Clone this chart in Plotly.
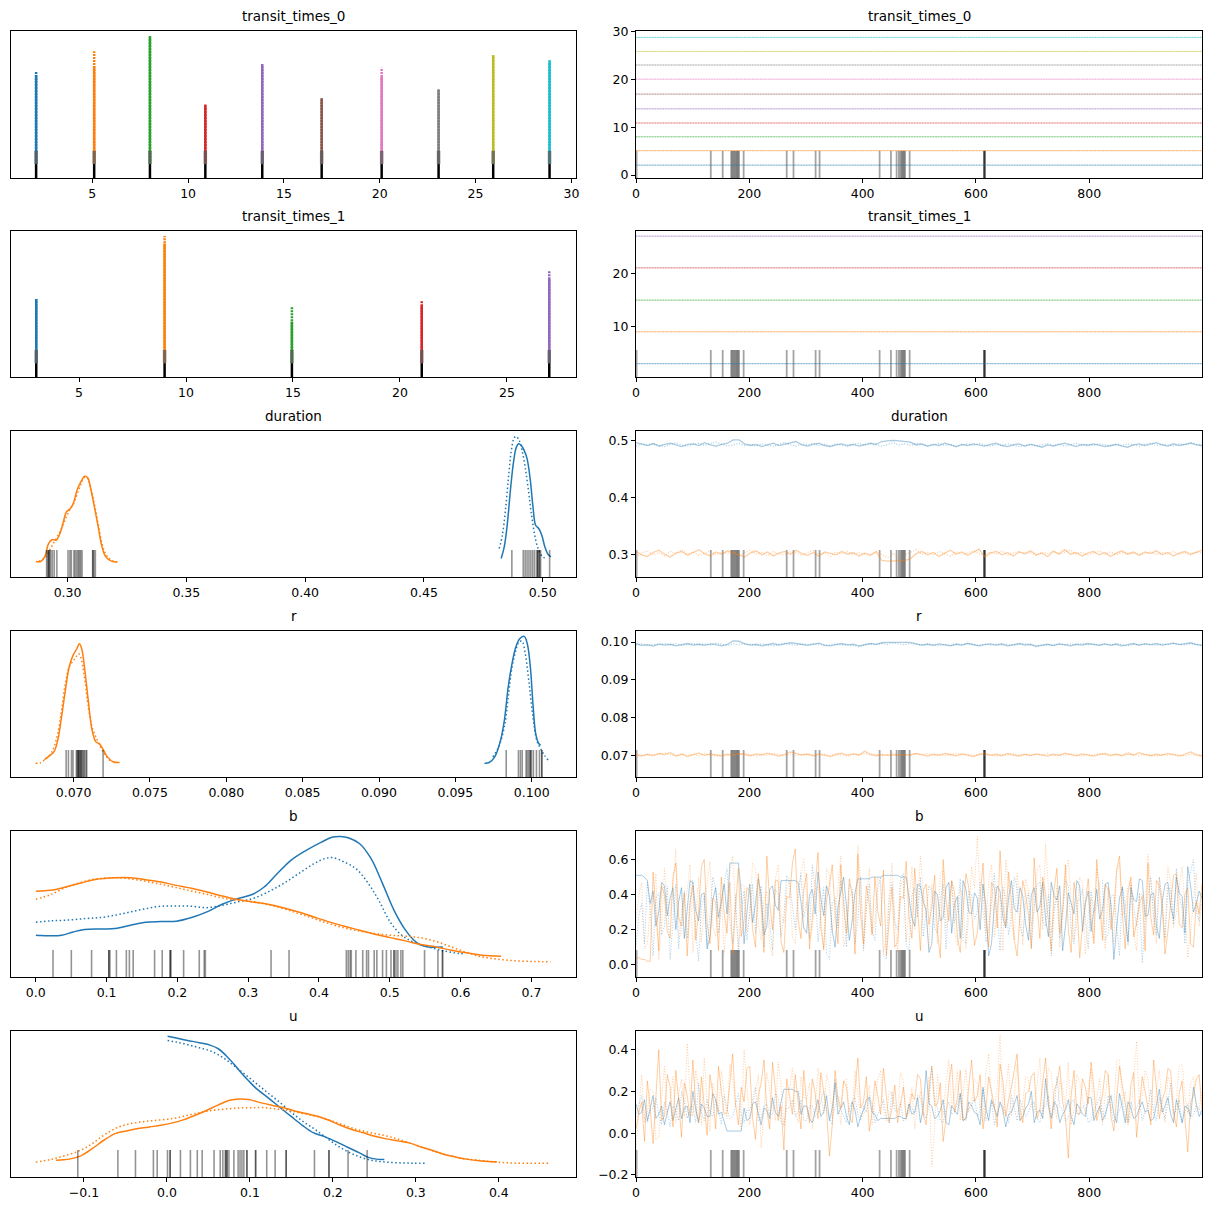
import numpy as np
import plotly.graph_objects as go

# ---------------- data ----------------
TAB10 = ["#1f77b4", "#ff7f0e", "#2ca02c", "#d62728", "#9467bd",
         "#8c564b", "#e377c2", "#7f7f7f", "#bcbd22", "#17becf"]

var_names = ["transit_times_0", "transit_times_1", "duration", "r", "b", "u"]

# transit times: posterior is essentially a spike at each value
tt0_values = [2.07, 5.10, 8.01, 10.90, 13.87, 16.97, 20.10, 23.07, 25.92, 28.86]
tt0_peak_chain0 = [0.70, 0.77, 1.01, 0.47, 0.79, 0.52, 0.69, 0.59, 0.86, 0.82]
tt0_peak_chain1 = [0.73, 0.89, 1.00, 0.46, 0.78, 0.51, 0.76, 0.58, 0.85, 0.81]
tt1_values = [3.00, 9.00, 14.95, 21.02, 26.98]
tt1_peak_chain0 = [0.51, 0.95, 0.33, 0.46, 0.67]
tt1_peak_chain1 = [0.51, 1.01, 0.45, 0.50, 0.73]

# KDE curves (x, density) per dimension / chain
dur_kde_d1_c0_x = [0.2867, 0.2887, 0.2904, 0.2920, 0.2936, 0.2952, 0.2968, 0.2984, 0.2995, 0.3011, 0.3024,
                   0.3040, 0.3056, 0.3072, 0.3085, 0.3096, 0.3113, 0.3129, 0.3145, 0.3161, 0.3185, 0.3209]
dur_kde_d1_c0_y = [0.013, 0.013, 0.050, 0.156, 0.188, 0.182, 0.235, 0.341, 0.407, 0.433, 0.473,
                   0.579, 0.645, 0.690, 0.679, 0.605, 0.447, 0.288, 0.129, 0.050, 0.016, 0.008]
dur_kde_d1_c1_x = [0.2879, 0.2895, 0.2912, 0.2928, 0.2944, 0.2960, 0.2976, 0.2992, 0.3008, 0.3024, 0.3040,
                   0.3056, 0.3069, 0.3082, 0.3096, 0.3113, 0.3129, 0.3145, 0.3161, 0.3177, 0.3193, 0.3209]
dur_kde_d1_c1_y = [0.013, 0.029, 0.061, 0.114, 0.169, 0.222, 0.283, 0.354, 0.420, 0.468, 0.547,
                   0.626, 0.679, 0.679, 0.610, 0.468, 0.309, 0.156, 0.071, 0.034, 0.016, 0.011]
dur_kde_d0_c0_x = [0.4825, 0.4838, 0.4851, 0.4864, 0.4877, 0.4889, 0.4899, 0.4909, 0.4922, 0.4934, 0.4947,
                   0.4959, 0.4970, 0.4983, 0.4996, 0.5009, 0.5022, 0.5034]
dur_kde_d0_c0_y = [0.037, 0.129, 0.314, 0.579, 0.803, 0.922, 0.949, 0.936, 0.896, 0.830, 0.671,
                   0.447, 0.301, 0.275, 0.222, 0.129, 0.071, 0.050]
dur_kde_d0_c1_x = [0.4817, 0.4830, 0.4843, 0.4856, 0.4868, 0.4880, 0.4889, 0.4901, 0.4913, 0.4926, 0.4939,
                   0.4952, 0.4965, 0.4978, 0.4991, 0.5004, 0.5018]
dur_kde_d0_c1_y = [0.116, 0.222, 0.420, 0.684, 0.896, 0.996, 1.007, 0.975, 0.896, 0.764, 0.592,
                   0.394, 0.235, 0.129, 0.071, 0.045, 0.034]

r_kde_d1_c0_x = [0.06808, 0.06833, 0.06871, 0.06896, 0.06921, 0.06946, 0.06971, 0.06996, 0.07021, 0.07038,
                 0.07053, 0.07071, 0.07096, 0.07121, 0.07146, 0.07171, 0.07196, 0.07221, 0.07258, 0.07301]
r_kde_d1_c0_y = [0.029, 0.050, 0.090, 0.182, 0.367, 0.579, 0.764, 0.856, 0.909, 0.949,
                 0.909, 0.764, 0.499, 0.262, 0.169, 0.151, 0.103, 0.050, 0.011, 0.005]
r_kde_d1_c1_x = [0.06751, 0.06783, 0.06821, 0.06858, 0.06896, 0.06921, 0.06946, 0.06971, 0.07008, 0.07033,
                 0.07046, 0.07071, 0.07096, 0.07121, 0.07146, 0.07176, 0.07208, 0.07246]
r_kde_d1_c1_y = [0.000, 0.003, 0.037, 0.090, 0.235, 0.420, 0.632, 0.764, 0.830, 0.869,
                 0.843, 0.684, 0.447, 0.288, 0.209, 0.129, 0.063, 0.011]
r_kde_d0_c0_x = [0.09691, 0.09721, 0.09758, 0.09796, 0.09821, 0.09846, 0.09871, 0.09896, 0.09921, 0.09951,
                 0.09971, 0.09991, 0.10008, 0.10026, 0.10046, 0.10058]
r_kde_d0_c0_y = [0.000, 0.005, 0.050, 0.182, 0.341, 0.605, 0.790, 0.922, 0.988, 1.007,
                 0.949, 0.764, 0.473, 0.235, 0.156, 0.143]
r_kde_d0_c1_x = [0.09746, 0.09783, 0.09821, 0.09846, 0.09871, 0.09896, 0.09916, 0.09936, 0.09958, 0.09983,
                 0.10008, 0.10033, 0.10058, 0.10083, 0.10108]
r_kde_d0_c1_y = [0.050, 0.129, 0.288, 0.526, 0.764, 0.896, 0.962, 0.970, 0.869, 0.632,
                 0.367, 0.182, 0.116, 0.063, 0.024]

b_kde_d0_c0_x = [0.0001, 0.0071, 0.0206, 0.0367, 0.0529, 0.0691, 0.0907, 0.1122, 0.1338, 0.1554, 0.1770,
                 0.1985, 0.2201, 0.2417, 0.2633, 0.2848, 0.3064, 0.3226, 0.3388, 0.3604, 0.3819, 0.4035,
                 0.4197, 0.4305, 0.4413, 0.4575, 0.4736, 0.4898, 0.5060, 0.5222, 0.5330, 0.5437, 0.5545, 0.5750]
b_kde_d0_c0_y = [0.222, 0.219, 0.217, 0.222, 0.248, 0.267, 0.272, 0.275, 0.301, 0.325, 0.330,
                 0.333, 0.362, 0.407, 0.468, 0.513, 0.547, 0.605, 0.698, 0.817, 0.896, 0.962,
                 1.002, 1.007, 0.997, 0.949, 0.830, 0.632, 0.420, 0.262, 0.188, 0.143, 0.129, 0.129]
b_kde_d0_c1_x = [0.0001, 0.0206, 0.0421, 0.0691, 0.0907, 0.1122, 0.1338, 0.1554, 0.1770, 0.1985, 0.2201,
                 0.2417, 0.2633, 0.2848, 0.3064, 0.3280, 0.3496, 0.3711, 0.3927, 0.4089, 0.4197, 0.4359,
                 0.4521, 0.4682, 0.4844, 0.5006, 0.5168, 0.5330, 0.5545, 0.5761, 0.5977, 0.6031]
b_kde_d0_c1_y = [0.325, 0.336, 0.341, 0.354, 0.362, 0.381, 0.407, 0.433, 0.452, 0.455, 0.452,
                 0.441, 0.460, 0.486, 0.513, 0.566, 0.632, 0.711, 0.790, 0.832, 0.838, 0.803,
                 0.751, 0.645, 0.499, 0.327, 0.222, 0.169, 0.129, 0.098, 0.077, 0.074]
b_kde_d1_c0_x = [0.0001, 0.0206, 0.0421, 0.0637, 0.0853, 0.1122, 0.1338, 0.1554, 0.1770, 0.1985, 0.2201,
                 0.2417, 0.2633, 0.2848, 0.3064, 0.3280, 0.3496, 0.3711, 0.3927, 0.4143, 0.4359, 0.4575,
                 0.4790, 0.5006, 0.5222, 0.5437, 0.5653, 0.5869, 0.6085, 0.6300, 0.6570]
b_kde_d1_c0_y = [0.571, 0.579, 0.605, 0.637, 0.666, 0.679, 0.679, 0.663, 0.645, 0.618, 0.595,
                 0.566, 0.534, 0.505, 0.486, 0.468, 0.441, 0.407, 0.367, 0.328, 0.293, 0.262,
                 0.230, 0.203, 0.177, 0.148, 0.129, 0.103, 0.082, 0.063, 0.055]
b_kde_d1_c1_x = [0.0001, 0.0206, 0.0421, 0.0637, 0.0853, 0.1122, 0.1338, 0.1554, 0.1770, 0.1985, 0.2201,
                 0.2417, 0.2633, 0.2848, 0.3064, 0.3280, 0.3496, 0.3711, 0.3927, 0.4143, 0.4359, 0.4575,
                 0.4790, 0.5006, 0.5222, 0.5437, 0.5653, 0.5869, 0.6085, 0.6300, 0.6516, 0.6786, 0.7055, 0.7271]
b_kde_d1_c1_y = [0.507, 0.544, 0.600, 0.642, 0.669, 0.679, 0.669, 0.650, 0.626, 0.600, 0.573,
                 0.547, 0.518, 0.499, 0.489, 0.465, 0.433, 0.394, 0.354, 0.314, 0.280, 0.254,
                 0.235, 0.222, 0.214, 0.201, 0.172, 0.129, 0.085, 0.050, 0.032, 0.018, 0.013, 0.011]

u_kde_d0_c0_x = [0.0008, 0.0113, 0.0251, 0.0389, 0.0527, 0.0619, 0.0711, 0.0803, 0.0895, 0.0987, 0.1079,
                 0.1217, 0.1355, 0.1493, 0.1631, 0.1769, 0.1907, 0.2045, 0.2183, 0.2321, 0.2413, 0.2505, 0.2620]
u_kde_d0_c0_y = [1.009, 0.994, 0.975, 0.957, 0.936, 0.909, 0.856, 0.790, 0.719, 0.653, 0.592,
                 0.521, 0.447, 0.373, 0.301, 0.240, 0.209, 0.169, 0.124, 0.082, 0.050, 0.034, 0.029]
u_kde_d0_c1_x = [0.0008, 0.0113, 0.0251, 0.0389, 0.0527, 0.0665, 0.0803, 0.0941, 0.1079, 0.1217, 0.1355,
                 0.1493, 0.1631, 0.1769, 0.1907, 0.2045, 0.2183, 0.2321, 0.2459, 0.2597, 0.2781, 0.2965, 0.3126]
u_kde_d0_c1_y = [0.975, 0.962, 0.941, 0.917, 0.891, 0.843, 0.777, 0.706, 0.632, 0.558, 0.486,
                 0.407, 0.336, 0.275, 0.209, 0.143, 0.090, 0.050, 0.024, 0.011, 0.003, 0.000, 0.000]
u_kde_d1_c0_x = [-0.1336, -0.1175, -0.1037, -0.0899, -0.0761, -0.0623, -0.0485, -0.0347, -0.0209, -0.0071,
                 0.0067, 0.0205, 0.0343, 0.0481, 0.0619, 0.0757, 0.0872, 0.0987, 0.1125, 0.1263, 0.1401,
                 0.1539, 0.1677, 0.1815, 0.1953, 0.2091, 0.2229, 0.2367, 0.2505, 0.2643, 0.2781, 0.2919,
                 0.3057, 0.3195, 0.3333, 0.3471, 0.3609, 0.3793, 0.3977]
u_kde_d1_c0_y = [0.024, 0.032, 0.058, 0.116, 0.182, 0.235, 0.256, 0.275, 0.288, 0.301,
                 0.320, 0.346, 0.381, 0.420, 0.463, 0.500, 0.510, 0.505, 0.481, 0.460, 0.442,
                 0.415, 0.394, 0.373, 0.341, 0.301, 0.267, 0.241, 0.214, 0.193, 0.177, 0.161,
                 0.130, 0.103, 0.071, 0.050, 0.032, 0.018, 0.011]
u_kde_d1_c1_x = [-0.1580, -0.1405, -0.1221, -0.1037, -0.0899, -0.0761, -0.0623, -0.0485, -0.0301, -0.0117,
                 0.0067, 0.0205, 0.0343, 0.0481, 0.0619, 0.0757, 0.0895, 0.1033, 0.1171, 0.1309, 0.1447,
                 0.1585, 0.1723, 0.1861, 0.1999, 0.2137, 0.2275, 0.2413, 0.2551, 0.2689, 0.2827, 0.2965,
                 0.3103, 0.3241, 0.3379, 0.3517, 0.3747, 0.3977, 0.4207, 0.4598]
u_kde_d1_c1_y = [0.008, 0.029, 0.061, 0.103, 0.156, 0.222, 0.275, 0.307, 0.328, 0.341,
                 0.354, 0.373, 0.394, 0.412, 0.425, 0.433, 0.439, 0.441, 0.441, 0.431, 0.420,
                 0.402, 0.383, 0.362, 0.333, 0.301, 0.270, 0.248, 0.230, 0.209, 0.182, 0.151,
                 0.119, 0.090, 0.063, 0.042, 0.024, 0.008, 0.000, 0.000]

# divergent draws (trace panels) and divergent values (dist panels)
divergent_draws = [1, 132, 153, 168, 170, 172, 174, 176, 178, 180, 182, 190, 266, 278, 317, 324,
                   430, 450, 460, 464, 467, 469, 471, 473, 475, 483, 614, 615, 615, 616]
dur_div_values = [0.2912, 0.2916, 0.2921, 0.2921, 0.2924, 0.2929, 0.2936, 0.2944, 0.2955, 0.3002, 0.3010,
                  0.3016, 0.3027, 0.3032, 0.3039, 0.3045, 0.3050, 0.3055, 0.3061, 0.3106, 0.3106, 0.3111,
                  0.3117, 0.4870, 0.4918, 0.4926, 0.4934, 0.4942, 0.4950, 0.4958, 0.4966, 0.4975, 0.4979,
                  0.4986, 0.4991, 0.4986, 0.4979, 0.5029]
r_div_values = [0.06951, 0.06966, 0.06986, 0.06996, 0.07018, 0.07023, 0.07028, 0.07033, 0.07038, 0.07046,
                0.07053, 0.07058, 0.07066, 0.07071, 0.07081, 0.07086, 0.07193, 0.07033, 0.07046,
                0.09833, 0.09913, 0.09926, 0.09938, 0.09963, 0.09971, 0.09981, 0.09991, 0.09998, 0.10011,
                0.10031, 0.10051, 0.10066, 0.09991, 0.10066]
b_div_values = [0.0243, 0.0502, 0.0788, 0.1031, 0.1031, 0.1047, 0.1139, 0.1279, 0.1322, 0.1376, 0.1678,
                0.1786, 0.1899, 0.1899, 0.1910, 0.2088, 0.2309, 0.2379, 0.2395, 0.3323, 0.3577, 0.4386,
                0.4413, 0.4440, 0.4456, 0.4521, 0.4618, 0.4672, 0.4699, 0.4780, 0.4817, 0.4898, 0.4952,
                0.5017, 0.5060, 0.5060, 0.5087, 0.5114, 0.5157, 0.5184, 0.5491, 0.5680, 0.5745, 0.5745]
u_div_values = [-0.1074, -0.0591, -0.0379, -0.0163, -0.0117, 0.0007, 0.0039, 0.0039, 0.0163, 0.0283, 0.0366,
                0.0425, 0.0568, 0.0642, 0.0674, 0.0706, 0.0706, 0.0724, 0.0724, 0.0747, 0.0807, 0.0858,
                0.0881, 0.0904, 0.0927, 0.0964, 0.0964, 0.1069, 0.1069, 0.1203, 0.1304, 0.1437, 0.1437,
                0.1778, 0.1953, 0.1953, 0.2183, 0.2413]

# traces (thinned draws)
dur_d0_c0 = [0.497, 0.494, 0.492, 0.495, 0.491, 0.494, 0.496, 0.493, 0.490, 0.494,
             0.495, 0.492, 0.497, 0.493, 0.491, 0.494, 0.496, 0.502, 0.502, 0.495,
             0.492, 0.494, 0.490, 0.493, 0.496, 0.492, 0.494, 0.497, 0.499, 0.493,
             0.491, 0.494, 0.496, 0.492, 0.490, 0.493, 0.495, 0.492, 0.494, 0.491,
             0.493, 0.496, 0.494, 0.499, 0.500, 0.501, 0.500, 0.499, 0.498, 0.493,
             0.495, 0.491, 0.494, 0.492, 0.496, 0.493, 0.490, 0.494, 0.492, 0.495,
             0.493, 0.491, 0.494, 0.496, 0.492, 0.490, 0.493, 0.495, 0.491, 0.494,
             0.492, 0.489, 0.493, 0.491, 0.494, 0.496, 0.493, 0.490, 0.494, 0.492,
             0.495, 0.493, 0.490, 0.492, 0.494, 0.491, 0.489, 0.493, 0.495, 0.492,
             0.494, 0.497, 0.493, 0.491, 0.495, 0.492, 0.494, 0.496, 0.493, 0.492]
dur_d0_c1 = [0.491, 0.495, 0.493, 0.496, 0.492, 0.490, 0.494, 0.497, 0.493, 0.491,
             0.494, 0.496, 0.492, 0.495, 0.498, 0.494, 0.491, 0.493, 0.496, 0.492,
             0.494, 0.491, 0.495, 0.493, 0.490, 0.494, 0.497, 0.493, 0.491, 0.495,
             0.493, 0.496, 0.492, 0.494, 0.491, 0.495, 0.493, 0.490, 0.494, 0.496,
             0.492, 0.495, 0.493, 0.491, 0.494, 0.497, 0.493, 0.495, 0.492, 0.496,
             0.494, 0.491, 0.493, 0.496, 0.492, 0.494, 0.490, 0.493, 0.495, 0.492,
             0.496, 0.493, 0.491, 0.494, 0.492, 0.495, 0.493, 0.490, 0.492, 0.494,
             0.491, 0.493, 0.495, 0.492, 0.494, 0.491, 0.493, 0.496, 0.492, 0.494,
             0.492, 0.495, 0.493, 0.491, 0.494, 0.492, 0.495, 0.493, 0.491, 0.494,
             0.496, 0.492, 0.494, 0.493, 0.491, 0.495, 0.493, 0.497, 0.494, 0.492]
dur_d1_c0 = [0.306, 0.300, 0.297, 0.304, 0.308, 0.301, 0.296, 0.303, 0.306, 0.299,
             0.304, 0.309, 0.302, 0.298, 0.305, 0.301, 0.307, 0.304, 0.300, 0.296,
             0.303, 0.307, 0.300, 0.305, 0.298, 0.303, 0.306, 0.301, 0.308, 0.302,
             0.299, 0.304, 0.297, 0.305, 0.302, 0.300, 0.306, 0.301, 0.304, 0.298,
             0.303, 0.300, 0.305, 0.290, 0.289, 0.289, 0.290, 0.290, 0.293, 0.302,
             0.306, 0.300, 0.304, 0.297, 0.303, 0.308, 0.301, 0.305, 0.299, 0.304,
             0.310, 0.296, 0.303, 0.306, 0.300, 0.304, 0.298, 0.305, 0.302, 0.307,
             0.300, 0.303, 0.297, 0.306, 0.302, 0.309, 0.301, 0.304, 0.298, 0.303,
             0.306, 0.300, 0.304, 0.297, 0.303, 0.307, 0.301, 0.304, 0.299, 0.305,
             0.302, 0.307, 0.300, 0.304, 0.298, 0.303, 0.306, 0.301, 0.304, 0.308]
dur_d1_c1 = [0.295, 0.303, 0.307, 0.300, 0.304, 0.298, 0.306, 0.302, 0.309, 0.301,
             0.305, 0.299, 0.303, 0.307, 0.300, 0.304, 0.302, 0.306, 0.299, 0.303,
             0.308, 0.301, 0.304, 0.298, 0.306, 0.302, 0.300, 0.305, 0.303, 0.299,
             0.304, 0.307, 0.301, 0.303, 0.298, 0.305, 0.302, 0.306, 0.300, 0.304,
             0.301, 0.298, 0.306, 0.300, 0.295, 0.303, 0.292, 0.300, 0.305, 0.309,
             0.301, 0.304, 0.300, 0.306, 0.302, 0.298, 0.305, 0.301, 0.303, 0.307,
             0.302, 0.299, 0.305, 0.301, 0.307, 0.300, 0.303, 0.306, 0.301, 0.304,
             0.299, 0.305, 0.302, 0.307, 0.300, 0.304, 0.309, 0.301, 0.305, 0.299,
             0.303, 0.307, 0.301, 0.305, 0.300, 0.304, 0.302, 0.306, 0.300, 0.303,
             0.305, 0.300, 0.304, 0.302, 0.306, 0.301, 0.304, 0.300, 0.305, 0.303]

r_d0_c0 = [0.0996, 0.0991, 0.0993, 0.0989, 0.0995, 0.0992, 0.0994, 0.0990, 0.0993, 0.0996,
           0.0992, 0.0994, 0.0991, 0.0995, 0.0993, 0.0990, 0.0994, 0.1003, 0.1002, 0.0995,
           0.0992, 0.0994, 0.0990, 0.0993, 0.0996, 0.0992, 0.0995, 0.0998, 0.0996, 0.0993,
           0.0991, 0.0994, 0.0997, 0.0992, 0.0990, 0.0993, 0.0996, 0.0992, 0.0994, 0.0990,
           0.0993, 0.0996, 0.0994, 0.0998, 0.0999, 0.0999, 0.0998, 0.0998, 0.0999, 0.0995,
           0.0992, 0.0994, 0.0991, 0.0995, 0.0993, 0.0990, 0.0994, 0.0992, 0.0996, 0.0993,
           0.0990, 0.0993, 0.0995, 0.0992, 0.0994, 0.0990, 0.0993, 0.0996, 0.0992, 0.0994,
           0.0989, 0.0992, 0.0994, 0.0991, 0.0995, 0.0993, 0.0990, 0.0994, 0.0992, 0.0996,
           0.0993, 0.0991, 0.0995, 0.0992, 0.0994, 0.0990, 0.0993, 0.0996, 0.0992, 0.0995,
           0.0993, 0.0996, 0.0992, 0.0994, 0.0997, 0.0993, 0.0995, 0.0998, 0.0994, 0.0991]
r_d0_c1 = [0.0992, 0.0995, 0.0990, 0.0994, 0.0992, 0.0996, 0.0993, 0.0995, 0.0991, 0.0994,
           0.0996, 0.0993, 0.0995, 0.0992, 0.0997, 0.0994, 0.0991, 0.0995, 0.0993, 0.0996,
           0.0994, 0.0991, 0.0995, 0.0993, 0.0990, 0.0994, 0.0997, 0.0993, 0.0991, 0.0995,
           0.0993, 0.0996, 0.0992, 0.0990, 0.0993, 0.0995, 0.0992, 0.0994, 0.0991, 0.0987,
           0.0992, 0.0995, 0.0993, 0.0996, 0.0994, 0.0998, 0.0995, 0.0993, 0.0996, 0.0994,
           0.0992, 0.0995, 0.0993, 0.0990, 0.0994, 0.0991, 0.0995, 0.0993, 0.0997, 0.0994,
           0.0991, 0.0995, 0.0992, 0.0994, 0.0996, 0.0993, 0.0991, 0.0994, 0.0996, 0.0992,
           0.0988, 0.0991, 0.0993, 0.0990, 0.0994, 0.0992, 0.0995, 0.0993, 0.0996, 0.0993,
           0.0995, 0.0992, 0.0994, 0.0991, 0.0996, 0.0993, 0.0990, 0.0994, 0.0992, 0.0995,
           0.0993, 0.0991, 0.0995, 0.0993, 0.0996, 0.0994, 0.0992, 0.0995, 0.0993, 0.0991]
r_d1_c0 = [0.0702, 0.0699, 0.0704, 0.0701, 0.0706, 0.0703, 0.0708, 0.0700, 0.0704, 0.0698,
           0.0703, 0.0707, 0.0701, 0.0705, 0.0702, 0.0699, 0.0704, 0.0701, 0.0706, 0.0702,
           0.0700, 0.0705, 0.0702, 0.0707, 0.0703, 0.0699, 0.0704, 0.0710, 0.0706, 0.0702,
           0.0704, 0.0700, 0.0705, 0.0702, 0.0698, 0.0703, 0.0707, 0.0701, 0.0705, 0.0702,
           0.0712, 0.0704, 0.0700, 0.0703, 0.0701, 0.0702, 0.0702, 0.0701, 0.0703, 0.0706,
           0.0702, 0.0699, 0.0704, 0.0701, 0.0706, 0.0703, 0.0700, 0.0705, 0.0702, 0.0698,
           0.0703, 0.0707, 0.0701, 0.0704, 0.0700, 0.0706, 0.0702, 0.0699, 0.0704, 0.0701,
           0.0705, 0.0702, 0.0699, 0.0704, 0.0701, 0.0707, 0.0703, 0.0700, 0.0705, 0.0702,
           0.0699, 0.0703, 0.0706, 0.0701, 0.0704, 0.0700, 0.0705, 0.0702, 0.0708, 0.0703,
           0.0700, 0.0704, 0.0701, 0.0706, 0.0702, 0.0699, 0.0704, 0.0710, 0.0703, 0.0700]
r_d1_c1 = [0.0705, 0.0701, 0.0703, 0.0699, 0.0704, 0.0707, 0.0702, 0.0700, 0.0705, 0.0701,
           0.0704, 0.0700, 0.0706, 0.0703, 0.0699, 0.0704, 0.0701, 0.0705, 0.0702, 0.0707,
           0.0703, 0.0699, 0.0704, 0.0701, 0.0706, 0.0702, 0.0700, 0.0704, 0.0701, 0.0703,
           0.0706, 0.0702, 0.0699, 0.0704, 0.0701, 0.0705, 0.0702, 0.0699, 0.0704, 0.0701,
           0.0706, 0.0702, 0.0704, 0.0700, 0.0703, 0.0706, 0.0701, 0.0704, 0.0700, 0.0705,
           0.0703, 0.0706, 0.0701, 0.0704, 0.0700, 0.0703, 0.0707, 0.0702, 0.0704, 0.0700,
           0.0705, 0.0701, 0.0703, 0.0699, 0.0704, 0.0702, 0.0706, 0.0701, 0.0703, 0.0700,
           0.0704, 0.0702, 0.0706, 0.0700, 0.0703, 0.0701, 0.0705, 0.0702, 0.0699, 0.0704,
           0.0701, 0.0706, 0.0703, 0.0700, 0.0704, 0.0702, 0.0709, 0.0703, 0.0700, 0.0705,
           0.0702, 0.0699, 0.0704, 0.0701, 0.0705, 0.0703, 0.0700, 0.0704, 0.0702, 0.0699]

b_d0_c0 = [0.51, 0.51, 0.51, 0.50, 0.48, 0.35, 0.42, 0.22, 0.30, 0.47, 0.45, 0.28, 0.38, 0.44, 0.20, 0.36, 0.44, 0.15, 0.33, 0.48,
           0.47, 0.31, 0.25, 0.40, 0.41, 0.09, 0.16, 0.37, 0.44, 0.27, 0.36, 0.46, 0.29, 0.58, 0.58, 0.58, 0.58, 0.41, 0.12, 0.30,
           0.46, 0.24, 0.35, 0.49, 0.40, 0.17, 0.22, 0.43, 0.45, 0.34, 0.31, 0.48, 0.48, 0.48, 0.48, 0.48, 0.48, 0.47, 0.36, 0.21,
           0.18, 0.40, 0.43, 0.29, 0.53, 0.38, 0.28, 0.45, 0.39, 0.19, 0.10, 0.33, 0.42, 0.50, 0.33, 0.14, 0.25, 0.41, 0.49, 0.49,
           0.49, 0.49, 0.49, 0.50, 0.50, 0.50, 0.50, 0.51, 0.51, 0.51, 0.51, 0.51, 0.51, 0.50, 0.50, 0.50, 0.38, 0.27, 0.22, 0.46,
           0.45, 0.36, 0.31, 0.07, 0.12, 0.42, 0.40, 0.25, 0.27, 0.44, 0.47, 0.18, 0.35, 0.39, 0.15, 0.48, 0.43, 0.30, 0.29, 0.41,
           0.38, 0.20, 0.46, 0.34, 0.05, 0.12, 0.34, 0.45, 0.42, 0.27, 0.21, 0.38, 0.48, 0.32, 0.30, 0.44, 0.39, 0.23, 0.14, 0.40,
           0.44, 0.30, 0.33, 0.47, 0.26, 0.16, 0.47, 0.39, 0.37, 0.45, 0.08, 0.22, 0.41, 0.35, 0.29, 0.48, 0.45, 0.19, 0.35, 0.42,
           0.19, 0.31, 0.43, 0.26, 0.31, 0.46, 0.47, 0.34, 0.03, 0.21, 0.38, 0.44, 0.25, 0.13, 0.44, 0.37, 0.36, 0.49, 0.48, 0.28,
           0.28, 0.40, 0.41, 0.22, 0.15, 0.36, 0.46, 0.47, 0.33, 0.26, 0.50, 0.41, 0.39, 0.18, 0.56, 0.45, 0.30, 0.35, 0.42, 0.38]
b_d0_c1 = [0.10, 0.28, 0.35, 0.12, 0.47, 0.31, 0.05, 0.38, 0.41, 0.17, 0.22, 0.45, 0.03, 0.26, 0.46, 0.09, 0.30, 0.42, 0.15, 0.36,
           0.48, 0.20, 0.02, 0.33, 0.39, 0.11, 0.27, 0.50, 0.44, 0.18, 0.34, 0.47, 0.55, 0.25, 0.12, 0.40, 0.06, 0.29, 0.42, 0.14,
           0.30, 0.46, 0.18, 0.37, 0.45, 0.10, 0.35, 0.24, 0.08, 0.43, 0.40, 0.16, 0.28, 0.51, 0.47, 0.33, 0.20, 0.41, 0.52, 0.27,
           0.36, 0.15, 0.57, 0.44, 0.13, 0.30, 0.44, 0.06, 0.03, 0.35, 0.38, 0.21, 0.48, 0.39, 0.10, 0.46, 0.43, 0.12, 0.25, 0.50,
           0.08, 0.32, 0.46, 0.19, 0.14, 0.44, 0.50, 0.05, 0.03, 0.37, 0.47, 0.24, 0.20, 0.49, 0.52, 0.11, 0.08, 0.40, 0.44, 0.27,
           0.50, 0.16, 0.30, 0.45, 0.42, 0.21, 0.18, 0.36, 0.46, 0.09, 0.35, 0.48, 0.24, 0.31, 0.49, 0.14, 0.12, 0.42, 0.40, 0.26,
           0.30, 0.47, 0.45, 0.13, 0.20, 0.38, 0.52, 0.29, 0.08, 0.44, 0.38, 0.17, 0.28, 0.50, 0.44, 0.22, 0.16, 0.35, 0.41, 0.10,
           0.34, 0.46, 0.47, 0.25, 0.22, 0.40, 0.05, 0.31, 0.39, 0.15, 0.29, 0.48, 0.45, 0.20, 0.12, 0.36, 0.37, 0.43, 0.26, 0.09,
           0.42, 0.30, 0.33, 0.47, 0.48, 0.14, 0.18, 0.39, 0.40, 0.24, 0.05, 0.45, 0.35, 0.11, 0.46, 0.33, 0.22, 0.41, 0.01, 0.28,
           0.38, 0.50, 0.28, 0.17, 0.50, 0.36, 0.15, 0.44, 0.43, 0.23, 0.55, 0.39, 0.32, 0.12, 0.47, 0.53, 0.60, 0.30, 0.25, 0.41]
b_d1_c0 = [0.04, 0.04, 0.03, 0.03, 0.02, 0.02, 0.53, 0.31, 0.08, 0.45, 0.40, 0.19, 0.15, 0.50, 0.58, 0.27, 0.22, 0.41, 0.05, 0.35,
           0.45, 0.14, 0.30, 0.56, 0.60, 0.24, 0.12, 0.38, 0.36, 0.08, 0.50, 0.29, 0.18, 0.47, 0.06, 0.33, 0.55, 0.16, 0.25, 0.44,
           0.42, 0.20, 0.10, 0.52, 0.33, 0.07, 0.62, 0.36, 0.20, 0.48, 0.48, 0.13, 0.07, 0.39, 0.38, 0.58, 0.66, 0.26, 0.15, 0.43,
           0.52, 0.09, 0.28, 0.46, 0.64, 0.21, 0.09, 0.37, 0.45, 0.57, 0.30, 0.12, 0.57, 0.34, 0.18, 0.49, 0.40, 0.06, 0.63, 0.28,
           0.12, 0.45, 0.35, 0.17, 0.50, 0.31, 0.22, 0.54, 0.05, 0.24, 0.44, 0.10, 0.13, 0.39, 0.38, 0.59, 0.27, 0.15, 0.55, 0.33,
           0.08, 0.42, 0.46, 0.23, 0.33, 0.51, 0.19, 0.04, 0.60, 0.37, 0.25, 0.48, 0.41, 0.16, 0.07, 0.30, 0.52, 0.44, 0.30, 0.11,
           0.18, 0.39, 0.58, 0.26, 0.10, 0.47, 0.44, 0.21, 0.65, 0.35, 0.22, 0.53, 0.36, 0.14, 0.05, 0.28, 0.48, 0.40, 0.28, 0.09,
           0.61, 0.34, 0.15, 0.50, 0.40, 0.25, 0.08, 0.43, 0.55, 0.18, 0.32, 0.57, 0.20, 0.07, 0.47, 0.36, 0.04, 0.22, 0.37, 0.49,
           0.26, 0.12, 0.60, 0.38, 0.14, 0.46, 0.43, 0.20, 0.31, 0.54, 0.62, 0.29, 0.09, 0.41, 0.50, 0.16, 0.24, 0.35, 0.39, 0.08,
           0.58, 0.27, 0.17, 0.48, 0.45, 0.33, 0.06, 0.19, 0.35, 0.51, 0.52, 0.23, 0.21, 0.40, 0.44, 0.12, 0.10, 0.36, 0.29, 0.46]
b_d1_c1 = [0.25, 0.40, 0.47, 0.09, 0.12, 0.33, 0.38, 0.52, 0.03, 0.21, 0.55, 0.30, 0.28, 0.44, 0.66, 0.15, 0.18, 0.37, 0.42, 0.57,
           0.07, 0.26, 0.50, 0.13, 0.33, 0.48, 0.59, 0.22, 0.16, 0.41, 0.40, 0.06, 0.26, 0.53, 0.62, 0.31, 0.10, 0.46, 0.45, 0.19,
           0.30, 0.58, 0.55, 0.24, 0.14, 0.37, 0.42, 0.11, 0.05, 0.49, 0.57, 0.28, 0.24, 0.43, 0.48, 0.16, 0.12, 0.35, 0.53, 0.60,
           0.36, 0.14, 0.20, 0.42, 0.45, 0.27, 0.08, 0.55, 0.51, 0.19, 0.30, 0.44, 0.62, 0.10, 0.17, 0.38, 0.42, 0.25, 0.68, 0.47,
           0.10, 0.32, 0.55, 0.18, 0.24, 0.50, 0.46, 0.07, 0.15, 0.39, 0.58, 0.26, 0.07, 0.45, 0.49, 0.13, 0.34, 0.56, 0.20, 0.31,
           0.62, 0.42, 0.28, 0.09, 0.46, 0.35, 0.12, 0.52, 0.54, 0.21, 0.35, 0.47, 0.19, 0.11, 0.44, 0.38, 0.09, 0.27, 0.56, 0.44,
           0.73, 0.40, 0.30, 0.18, 0.48, 0.57, 0.16, 0.33, 0.40, 0.08, 0.60, 0.45, 0.25, 0.14, 0.52, 0.36, 0.11, 0.49, 0.43, 0.22,
           0.30, 0.54, 0.57, 0.20, 0.69, 0.42, 0.18, 0.31, 0.45, 0.10, 0.27, 0.51, 0.60, 0.37, 0.14, 0.24, 0.50, 0.46, 0.06, 0.29,
           0.38, 0.15, 0.55, 0.43, 0.22, 0.09, 0.44, 0.35, 0.12, 0.53, 0.58, 0.28, 0.33, 0.45, 0.48, 0.17, 0.08, 0.39, 0.41, 0.26,
           0.63, 0.48, 0.27, 0.12, 0.50, 0.37, 0.13, 0.56, 0.46, 0.21, 0.30, 0.44, 0.56, 0.33, 0.04, 0.18, 0.38, 0.52, 0.22, 0.35]

u_d0_c0 = [0.14, 0.09, 0.10, 0.16, 0.06, 0.12, 0.18, 0.07, 0.09, 0.13, 0.04, 0.10, 0.15, 0.06, 0.11, 0.17, 0.07, 0.12, 0.13, 0.05,
           0.20, 0.11, 0.05, 0.14, 0.12, 0.08, 0.08, 0.19, 0.16, 0.09, 0.10, 0.05, 0.01, 0.01, 0.01, 0.01, 0.01, 0.01, 0.12, 0.06,
           0.07, 0.14, 0.15, 0.09, 0.04, 0.12, 0.11, 0.07, 0.17, 0.10, 0.08, 0.15, 0.21, 0.21, 0.21, 0.21, 0.20, 0.20, 0.09, 0.13,
           0.13, 0.07, 0.05, 0.11, 0.16, 0.08, 0.10, 0.18, 0.06, 0.12, 0.24, 0.09, 0.12, 0.15, 0.08, 0.04, 0.15, 0.11, 0.03, 0.08,
           0.11, 0.16, 0.17, 0.10, 0.09, 0.06, 0.07, 0.07, 0.07, 0.07, 0.07, 0.07, 0.08, 0.08, 0.07, 0.07, 0.14, 0.09, 0.10, 0.17,
           0.05, 0.12, 0.30, 0.14, 0.13, 0.07, 0.08, 0.11, 0.16, 0.05, 0.04, 0.13, 0.11, 0.09, 0.19, 0.06, 0.07, 0.15, 0.13, 0.10,
           0.09, 0.04, 0.22, 0.12, 0.06, 0.16, 0.12, 0.08, 0.15, 0.11, 0.03, 0.09, 0.10, 0.14, 0.18, 0.06, 0.08, 0.12, 0.14, 0.20,
           0.05, 0.10, 0.11, 0.07, 0.26, 0.13, 0.07, 0.15, 0.13, 0.05, 0.09, 0.11, 0.16, 0.08, 0.04, 0.14, 0.12, 0.09, 0.08, 0.17,
           0.17, 0.06, 0.10, 0.13, 0.06, 0.09, 0.14, 0.18, 0.09, 0.05, 0.19, 0.11, 0.05, 0.15, 0.12, 0.07, 0.08, 0.12, 0.15, 0.10,
           0.11, 0.06, 0.07, 0.14, 0.21, 0.10, 0.13, 0.17, 0.09, 0.05, 0.16, 0.11, 0.05, 0.13, 0.12, 0.08, 0.22, 0.14, 0.08, 0.11]
u_d0_c1 = [0.08, 0.14, 0.18, 0.07, 0.05, 0.11, 0.12, 0.17, 0.09, 0.04, 0.15, 0.10, 0.03, 0.13, 0.11, 0.06, 0.20, 0.15, 0.07, 0.12,
           0.13, 0.05, 0.24, 0.10, 0.06, 0.16, 0.10, 0.08, 0.16, 0.12, 0.04, 0.18, 0.12, 0.07, 0.08, 0.14, 0.19, 0.09, 0.05, 0.11,
           0.11, 0.16, 0.22, 0.06, 0.07, 0.13, 0.14, 0.09, 0.09, 0.19, 0.17, 0.05, 0.04, 0.12, 0.12, 0.16, 0.08, 0.10, 0.16, 0.06,
           0.06, 0.13, 0.13, 0.08, 0.10, 0.15, 0.20, 0.11, 0.07, 0.04, 0.26, 0.14, 0.11, 0.08, 0.05, 0.12, 0.15, 0.17, 0.09, 0.06,
           0.13, 0.10, 0.18, 0.14, 0.05, 0.09, 0.12, 0.16, 0.08, 0.05, 0.20, 0.11, 0.10, 0.15, 0.06, 0.08, 0.14, 0.12, 0.09, 0.18,
           0.17, 0.10, 0.07, 0.13, 0.32, 0.16, 0.12, 0.06, 0.05, 0.11, 0.15, 0.09, 0.10, 0.14, 0.19, 0.07, 0.06, 0.12, 0.13, 0.17,
           0.08, 0.11, 0.21, 0.06, 0.11, 0.15, 0.04, 0.09, 0.14, 0.13, 0.09, 0.05, 0.18, 0.12, 0.06, 0.16, 0.12, 0.08, 0.10, 0.14,
           0.15, 0.07, 0.05, 0.12, 0.13, 0.18, 0.08, 0.10, 0.27, 0.13, 0.11, 0.06, 0.07, 0.15, 0.16, 0.09, 0.09, 0.13, 0.12, 0.05,
           0.06, 0.11, 0.14, 0.17, 0.10, 0.07, 0.18, 0.12, 0.05, 0.09, 0.11, 0.15, 0.08, 0.04, 0.15, 0.11, 0.12, 0.16, 0.06, 0.10,
           0.13, 0.21, 0.09, 0.06, 0.17, 0.12, 0.07, 0.14, 0.24, 0.09, 0.11, 0.16, 0.05, 0.10, 0.14, 0.07, 0.09, 0.13, 0.12, 0.08]
u_d1_c0 = [0.02, 0.10, 0.15, -0.04, 0.25, 0.12, -0.05, 0.20, 0.40, 0.06, 0.08, 0.28, 0.22, 0.03, 0.30, 0.16, -0.02, 0.24, 0.18, 0.08,
           0.35, 0.13, 0.05, 0.27, 0.12, -0.01, 0.28, 0.19, 0.02, 0.32, 0.20, 0.09, 0.10, 0.25, 0.38, 0.14, 0.04, 0.22, 0.15, 0.31,
           0.32, 0.07, -0.03, 0.18, 0.24, 0.35, 0.11, 0.02, 0.34, 0.21, 0.06, 0.13, -0.08, 0.26, 0.18, 0.09, 0.28, 0.15, 0.02, 0.30,
           0.14, 0.05, 0.26, 0.19, 0.07, 0.29, 0.20, 0.11, -0.11, 0.04, 0.30, 0.17, 0.12, 0.25, 0.22, 0.08, 0.05, 0.21, 0.36, 0.12,
           0.15, 0.27, 0.01, 0.10, 0.25, 0.18, 0.09, 0.31, 0.18, 0.05, 0.12, 0.23, 0.05, 0.14, 0.22, 0.08, 0.10, 0.19, 0.16, 0.28,
           0.26, 0.09, 0.04, 0.21, 0.32, 0.13, 0.14, 0.24, -0.04, 0.07, 0.24, 0.33, 0.10, 0.17, 0.30, 0.06, 0.07, 0.22, 0.35, 0.15,
           0.18, 0.28, 0.02, 0.11, 0.27, 0.20, 0.13, 0.03, 0.33, 0.25, 0.08, 0.16, 0.22, 0.30, 0.38, 0.12, 0.05, 0.19, 0.20, 0.27,
           0.29, 0.07, 0.11, 0.24, 0.36, 0.15, 0.02, 0.20, 0.24, 0.32, 0.15, 0.08, -0.12, 0.18, 0.30, 0.10, 0.09, 0.26, 0.22, 0.14,
           0.34, 0.21, 0.06, 0.12, 0.18, 0.30, 0.28, 0.08, 0.01, 0.17, 0.32, 0.23, 0.14, 0.05, 0.23, 0.29, -0.02, 0.13, 0.27, 0.20,
           0.11, 0.04, 0.35, 0.22, 0.07, 0.16, 0.20, 0.31, 0.30, 0.10, 0.03, 0.19, 0.25, 0.07, -0.09, 0.15, 0.18, 0.26, 0.28, 0.11]
u_d1_c1 = [-0.08, 0.12, 0.28, 0.05, 0.10, 0.21, 0.20, -0.03, -0.02, 0.16, 0.32, 0.09, 0.15, 0.27, 0.05, 0.18, 0.26, 0.08, 0.43, 0.19,
           0.08, 0.30, 0.22, 0.04, 0.36, 0.15, 0.01, 0.24, 0.18, 0.10, 0.30, 0.19, 0.07, 0.33, 0.25, 0.13, 0.12, 0.02, 0.40, 0.22,
           0.04, 0.14, 0.19, 0.28, -0.07, 0.11, 0.29, 0.20, 0.14, 0.06, 0.34, 0.23, 0.03, 0.15, 0.21, 0.31, 0.10, 0.05, 0.27, 0.17,
           0.16, 0.24, 0.02, 0.12, 0.31, 0.19, 0.09, 0.28, 0.22, 0.07, 0.13, 0.18, 0.04, 0.25, 0.26, 0.10, 0.11, 0.30, 0.19, 0.08,
           0.08, 0.16, 0.23, 0.04, 0.14, 0.26, 0.30, 0.11, 0.06, 0.20, 0.18, 0.13, 0.10, 0.29, 0.25, 0.06, 0.15, 0.22, 0.02, 0.14,
           0.20, 0.08, 0.12, 0.27, -0.16, 0.03, 0.28, 0.16, 0.09, 0.24, 0.35, 0.12, 0.18, 0.30, 0.06, 0.19, 0.31, 0.10, 0.14, 0.26,
           0.24, 0.11, 0.05, 0.29, 0.38, 0.17, 0.12, 0.22, 0.47, 0.09, 0.20, 0.33, 0.08, 0.18, 0.33, 0.06, 0.15, 0.27, 0.26, 0.13,
           0.10, 0.23, 0.36, 0.08, 0.18, 0.31, 0.29, 0.14, 0.07, 0.25, 0.22, 0.12, 0.34, 0.04, 0.12, 0.28, 0.25, 0.17, 0.09, 0.21,
           0.31, 0.07, 0.16, 0.26, 0.04, 0.19, 0.28, 0.11, 0.13, 0.35, 0.35, 0.15, 0.20, 0.05, 0.08, 0.24, 0.44, 0.14, 0.17, 0.30,
           0.26, 0.09, 0.10, 0.21, 0.30, 0.13, 0.05, 0.27, 0.23, 0.06, 0.15, 0.32, 0.33, 0.18, 0.09, 0.24, 0.27, 0.10, 0.12, 0.20]

# tick labels / axis ranges
left_xticks = [[5, 10, 15, 20, 25, 30], [5, 10, 15, 20, 25], [0.30, 0.35, 0.40, 0.45, 0.50],
               [0.070, 0.075, 0.080, 0.085, 0.090, 0.095, 0.100], [0, 0.1, 0.2, 0.3, 0.4, 0.5, 0.6, 0.7],
               [-0.1, 0.0, 0.1, 0.2, 0.3, 0.4]]
left_xfmt = ["d", "d", ".2f", ".3f", ".1f", ".1f"]
left_xrange = [[0.76, 30.24], [1.82, 28.23], [0.2762, 0.514], [0.0659, 0.1029], [-0.035, 0.763], [-0.1879, 0.493]]
right_yticks = [[0, 10, 20, 30], [10, 20], [0.3, 0.4, 0.5], [0.07, 0.08, 0.09, 0.10], [0.0, 0.2, 0.4, 0.6],
                [-0.2, 0.0, 0.2, 0.4]]
right_yfmt = ["d", "d", ".1f", ".2f", ".1f", ".1f"]
right_yrange = [[-0.63, 30.2], [0.5, 27.95], [0.261, 0.5175], [0.0644, 0.1029], [-0.070, 0.763], [-0.21, 0.489]]
draw_ticks = [0, 200, 400, 600, 800]
n_draws = 1000

# ---------------- figure ----------------
W = H = 1211
col_px = [(11, 576), (636, 1202)]
row_px = [(31, 178), (231, 377), (431, 577), (631, 777), (831, 977), (1031, 1177)]
LEFT_YRANGE = [-0.11, 1.05]
RUG_TOP = 0.185
BASE_FRAC = (0 - LEFT_YRANGE[0]) / (LEFT_YRANGE[1] - LEFT_YRANGE[0])
FONT = "DejaVu Sans"
DOT = "1.5px,2.5px"
TDOT = "1px,1.7px"

fig = go.Figure()
shapes = []
annotations = []
layout = dict()


def axid(k):
    return "" if k == 1 else str(k)


def rgba(hexc, a):
    h = hexc.lstrip("#")
    return "rgba(%d,%d,%d,%.2f)" % (int(h[0:2], 16), int(h[2:4], 16), int(h[4:6], 16), a)


def add_line(k, x, y, color, dash, width, shape="linear"):
    fig.add_trace(go.Scatter(x=x, y=y, mode="lines", xaxis="x" + axid(k), yaxis="y" + axid(k),
                             line=dict(color=color, width=width, dash=dash, shape=shape),
                             showlegend=False, hoverinfo="skip"))


def add_rug(k, values, color="rgba(0,0,0,0.42)", width=1.6):
    for v in values:
        shapes.append(dict(type="line", xref="x" + axid(k), yref="y" + axid(k) + " domain",
                           x0=v, x1=v, y0=0, y1=RUG_TOP, line=dict(color=color, width=width), layer="above"))


for r_i in range(6):
    for c_i in range(2):
        k = r_i * 2 + c_i + 1
        x0p, x1p = col_px[c_i]
        t0p, b0p = row_px[r_i]
        xd = [x0p / W, x1p / W]
        yd = [1 - b0p / H, 1 - t0p / H]
        common = dict(showline=True, mirror=True, linecolor="black", linewidth=1, showgrid=False,
                      zeroline=False, ticks="outside", ticklen=4, tickwidth=1, tickcolor="black",
                      automargin=False,
                      tickfont=dict(family=FONT, size=12.5, color="black"))
        if c_i == 0:
            xa = dict(domain=xd, anchor="y" + axid(k), range=left_xrange[r_i], tickmode="array",
                      tickvals=left_xticks[r_i], tickformat=left_xfmt[r_i], **common)
            ya = dict(domain=yd, anchor="x" + axid(k), range=LEFT_YRANGE, showticklabels=False,
                      **{**common, "ticks": ""})
        else:
            xa = dict(domain=xd, anchor="y" + axid(k), range=[0, n_draws - 1], tickmode="array",
                      tickvals=draw_ticks, **common)
            ya = dict(domain=yd, anchor="x" + axid(k), range=right_yrange[r_i], tickmode="array",
                      tickvals=right_yticks[r_i], tickformat=right_yfmt[r_i], **common)
        layout["xaxis" + axid(k)] = xa
        layout["yaxis" + axid(k)] = ya
        annotations.append(dict(text=var_names[r_i], xref="paper", yref="paper",
                                x=(xd[0] + xd[1]) / 2, y=yd[1] + 5 / H, xanchor="center", yanchor="bottom",
                                showarrow=False, font=dict(family=FONT, size=13.5, color="black")))

# divergence markers on the trace panels (under the traces)
for r_i in range(6):
    k = r_i * 2 + 2
    for d in divergent_draws:
        shapes.append(dict(type="line", xref="x" + axid(k), yref="y" + axid(k) + " domain",
                           x0=d, x1=d, y0=0, y1=RUG_TOP,
                           line=dict(color="rgba(0,0,0,0.36)", width=1.8), layer="below"))

# --- transit times: spikes and constant traces ---
for r_i, (vals, h0, h1) in enumerate([(tt0_values, tt0_peak_chain0, tt0_peak_chain1),
                                      (tt1_values, tt1_peak_chain0, tt1_peak_chain1)]):
    kl = r_i * 2 + 1
    kr = r_i * 2 + 2
    for i, v in enumerate(vals):
        col = TAB10[i % 10]
        add_line(kl, [v, v], [0, h1[i]], col, "2px,1px", 2.5)
        add_line(kl, [v, v], [0, h0[i]], col, "solid", 2.5)
        shapes.append(dict(type="line", xref="x" + axid(kl), yref="y" + axid(kl) + " domain",
                           x0=v, x1=v, y0=0, y1=BASE_FRAC, line=dict(color="black", width=2.5), layer="above"))
        shapes.append(dict(type="line", xref="x" + axid(kl), yref="y" + axid(kl) + " domain",
                           x0=v, x1=v, y0=BASE_FRAC, y1=RUG_TOP,
                           line=dict(color="rgba(90,90,90,0.75)", width=3.5), layer="above"))
        add_line(kr, [0, n_draws - 1], [v, v], rgba(col, 0.4), "solid", 1)
        add_line(kr, [0, n_draws - 1], [v, v], rgba(col, 0.4), TDOT, 1)

# --- continuous variables ---
kde_sets = [
    (dur_kde_d0_c0_x, dur_kde_d0_c0_y, dur_kde_d0_c1_x, dur_kde_d0_c1_y,
     dur_kde_d1_c0_x, dur_kde_d1_c0_y, dur_kde_d1_c1_x, dur_kde_d1_c1_y),
    (r_kde_d0_c0_x, r_kde_d0_c0_y, r_kde_d0_c1_x, r_kde_d0_c1_y,
     r_kde_d1_c0_x, r_kde_d1_c0_y, r_kde_d1_c1_x, r_kde_d1_c1_y),
    (b_kde_d0_c0_x, b_kde_d0_c0_y, b_kde_d0_c1_x, b_kde_d0_c1_y,
     b_kde_d1_c0_x, b_kde_d1_c0_y, b_kde_d1_c1_x, b_kde_d1_c1_y),
    (u_kde_d0_c0_x, u_kde_d0_c0_y, u_kde_d0_c1_x, u_kde_d0_c1_y,
     u_kde_d1_c0_x, u_kde_d1_c0_y, u_kde_d1_c1_x, u_kde_d1_c1_y),
]
trace_sets = [
    (dur_d0_c0, dur_d0_c1, dur_d1_c0, dur_d1_c1),
    (r_d0_c0, r_d0_c1, r_d1_c0, r_d1_c1),
    (b_d0_c0, b_d0_c1, b_d1_c0, b_d1_c1),
    (u_d0_c0, u_d0_c1, u_d1_c0, u_d1_c1),
]
trace_widths = [1.3, 1.3, 1.0, 1.0]
div_sets = [dur_div_values, r_div_values, b_div_values, u_div_values]

for j in range(4):
    r_i = j + 2
    kl = r_i * 2 + 1
    kr = r_i * 2 + 2
    kx = kde_sets[j]
    for dim in range(2):
        col = TAB10[dim]
        xc0, yc0, xc1, yc1 = kx[dim * 4: dim * 4 + 4]
        add_line(kl, xc0, yc0, col, "solid", 1.5, "spline")
        add_line(kl, xc1, yc1, col, DOT, 1.5, "spline")
    tr = trace_sets[j]
    for dim in range(2):
        col = TAB10[dim]
        for ch, dash in ((0, "solid"), (1, TDOT)):
            vals = tr[dim * 2 + ch]
            draws = np.linspace(0, n_draws - 1, len(vals))
            add_line(kr, draws, vals, rgba(col, 0.38), dash, trace_widths[j])
    add_rug(kl, div_sets[j])

layout.update(dict(width=W, height=H, autosize=False, margin=dict(l=0, r=0, t=0, b=0, pad=0),
                   paper_bgcolor="white", plot_bgcolor="white", showlegend=False,
                   shapes=shapes, annotations=annotations,
                   font=dict(family=FONT, size=12, color="black")))
fig.update_layout(**layout)
fig.write_html("out.html", config={"displayModeBar": False})
